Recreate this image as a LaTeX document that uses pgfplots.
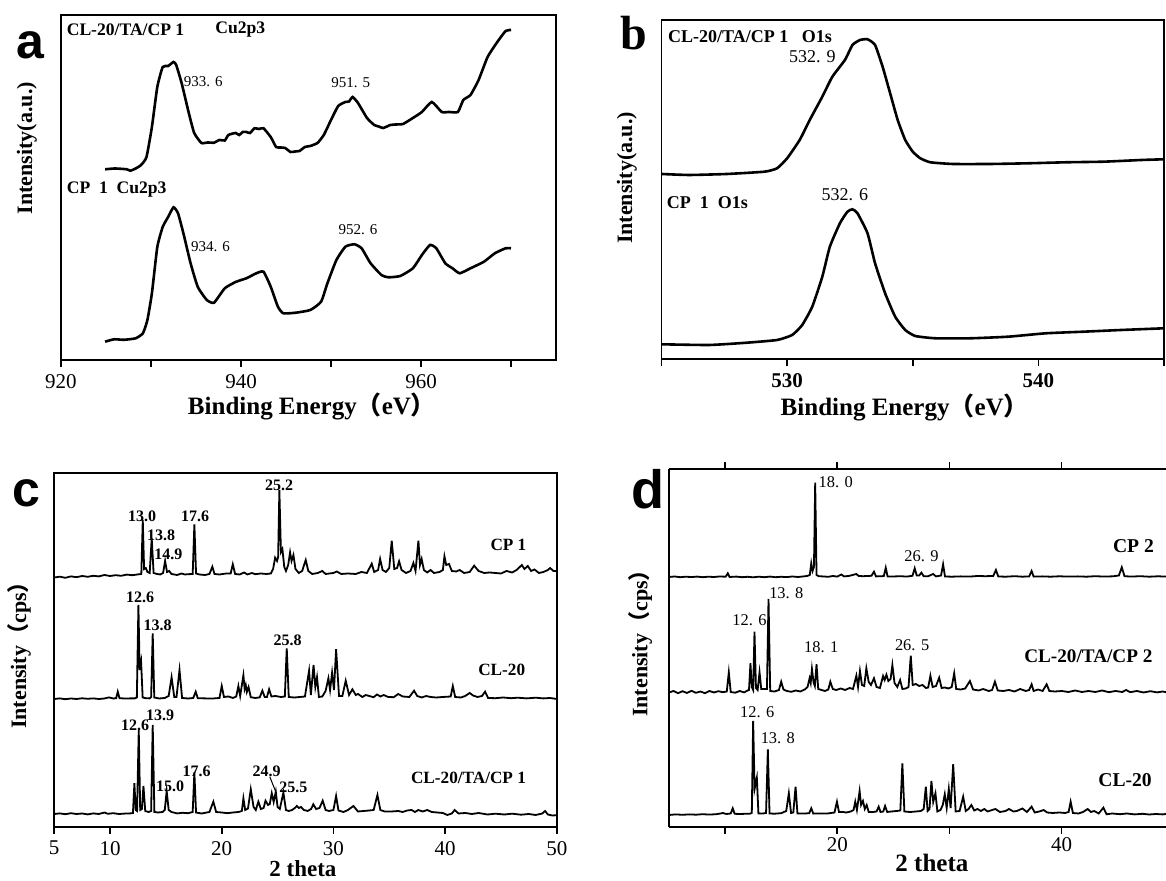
\documentclass[border=0pt]{standalone}
\usepackage{fontspec}
\setmainfont{Liberation Serif}
\newfontfamily\cjk{Noto Sans CJK SC}
\newfontfamily\letterfont{Liberation Sans}
\usepackage{pgfplots}
\usepackage{pgfplotstable}
\pgfplotsset{compat=1.18}

% ---- panel a: Cu2p3 XPS (intensity in a.u., curves offset) ----
\pgfplotstableread{
x y
924.9 190.7
926.0 191.5
927.3 190.7
927.7 189.3
928.3 191.5
928.9 195
929.5 203
930.1 233
930.7 273
931.3 293
931.9 294
932.5 298
932.8 295
933.4 277
934.2 247
934.8 227
935.6 217
936.3 217.5
937.0 217.3
937.6 220
938.2 219.5
938.6 225
939.4 227
939.8 225
940.2 228
940.6 228
941.0 227
941.5 231.7
942.0 231
942.5 231.7
943.3 223
943.9 213
944.4 212.5
944.9 212
945.5 208
946.0 208.5
946.5 209
947.1 213
947.7 214
948.5 217
949.2 225
950.0 240
950.8 254
951.6 258
952.0 258.5
952.4 263
953.0 257
954.0 242
954.8 235
955.3 233.5
955.8 232
956.6 235
957.2 235.5
958.0 236
959.1 242
960.1 248
961.2 258
962.3 248
963.1 248
964.1 248
964.7 260
965.5 265
966.4 280
967.4 303
968.4 317
969.4 329
970.0 330
}\cuTop
\pgfplotstableread{
x y
924.9 18.3
925.9 20.7
927.0 20.2
928.3 21.7
929.1 26.7
929.6 40
930.1 66.7
930.7 113
931.3 133
931.9 143
932.5 152.7
933.0 146.7
933.6 126.7
934.4 96.7
935.2 73
936.2 60
937.0 57.3
938.2 71.7
939.4 78
940.6 81.7
941.7 86.7
942.5 88.3
943.3 73.3
944.1 53.3
944.7 46.7
946.1 47.3
947.7 50
948.9 58.3
949.6 76.7
950.6 100
951.6 113.3
952.6 115.7
953.4 111.7
954.4 96.7
955.6 85
956.4 82.7
957.7 84
959.1 91.7
960.1 105
961.0 115
961.7 111.7
962.7 96.7
963.5 91.7
964.3 86.7
965.5 91.7
967.0 98.3
968.2 106.7
969.4 111.7
970.0 111.7
}\cuBot

% ---- panel b: O1s XPS ----
\pgfplotstableread{
x y
525.0 185
526.1 184
527.6 185
529.1 187.3
529.6 190.7
530.0 200.7
530.5 219
530.9 239
531.4 262.3
531.8 282.3
532.3 299
532.6 314
532.9 319
533.2 319.7
533.5 314
533.8 292.3
534.1 265.7
534.4 239
534.7 219
535.0 207.3
535.3 200.7
535.7 196.7
536.6 195
538.1 195
539.6 195.7
541.1 196.7
542.6 197.3
544.1 199
545.0 199.7
}\oTop
\pgfplotstableread{
x y
525.0 14.7
526.9 14
528.4 16.3
529.6 19
530.2 24
530.6 34
531.0 52.3
531.4 82.3
531.7 112.3
532.1 135.7
532.4 147.3
532.6 149.7
532.8 145.7
533.2 125.7
533.5 95.7
533.9 65.7
534.3 42.3
534.7 29
535.1 23
535.9 20.7
537.3 20.7
538.8 22.3
540.3 25.7
541.8 27.3
543.3 29
545.0 30.7
}\oBot

% ---- panel c: XRD ----
\pgfplotstableread{
x y
5.0 249.5
5.5 250.3
6.0 249.2
6.5 250.6
7.0 249.8
7.5 251.0
8.0 250.2
8.5 251.2
9.0 250.6
9.5 252.0
10.0 251.0
10.5 251.8
11.0 251.2
11.5 252.4
12.0 251.8
12.5 252.6
12.8 253.0
12.93 307.0
13.05 258.0
13.2 259.0
13.35 255.0
13.55 254.0
13.73 288.7
13.9 254.0
14.2 253.0
14.5 252.5
14.75 254.0
14.93 266.0
15.1 255.0
15.3 256.0
15.5 253.0
16.0 252.0
16.4 253.5
16.7 252.5
17.0 252.8
17.4 253.0
17.55 302.7
17.7 253.5
18.0 252.5
18.5 252.0
18.9 253.0
19.16 260.3
19.35 253.0
19.8 252.5
20.4 253.5
20.8 253.5
20.99 262.7
21.2 253.0
21.6 252.5
22.0 254.5
22.3 252.5
22.7 254.0
23.0 252.8
23.5 253.5
24.0 253.0
24.4 253.5
24.6 258.0
24.78 269.3
24.95 266.0
25.05 270.0
25.16 337.0
25.3 275.0
25.43 278.0
25.6 260.0
25.75 256.0
25.95 262.0
26.12 274.7
26.25 266.0
26.42 272.0
26.6 258.0
26.9 254.0
27.2 256.0
27.52 267.0
27.75 256.0
28.1 253.0
28.6 254.0
29.0 256.0
29.3 253.0
30.0 254.0
30.3 255.5
30.7 253.0
31.3 253.5
32.0 253.0
32.5 255.0
33.0 254.0
33.43 263.3
33.65 255.0
34.0 257.0
34.18 268.0
34.4 257.0
34.7 255.0
35.0 259.0
35.22 286.3
35.45 258.0
35.7 259.0
35.88 265.7
36.1 257.0
36.5 254.0
36.9 256.0
37.16 264.0
37.35 256.0
37.61 286.3
37.75 262.0
37.9 268.0
38.1 257.0
38.4 254.5
38.7 257.0
39.0 254.0
39.5 255.0
39.8 257.0
39.94 270.7
40.1 262.0
40.35 263.0
40.6 256.0
41.0 255.5
41.3 257.0
41.7 254.0
42.2 255.0
42.6 261.3
43.0 256.0
43.5 254.0
44.0 254.5
44.5 254.0
45.0 253.5
45.5 256.0
46.0 254.5
46.4 257.0
46.87 262.0
47.1 258.0
47.4 261.0
47.7 256.0
48.0 257.5
48.4 254.0
48.8 255.0
49.2 257.0
49.4 259.0
49.7 256.0
50.0 256.0
}\cpOne
\pgfplotstableread{
x y
5.0 128.0
5.5 128.6
6.0 127.8
6.5 128.5
7.0 128.0
7.5 128.7
8.0 128.2
8.5 128.6
9.0 128.0
9.5 128.5
9.9 129.6
10.3 128.5
10.55 128.8
10.69 135.3
10.85 128.8
11.3 128.5
11.8 128.6
12.2 128.6
12.4 129.5
12.54 222.0
12.65 157.0
12.78 165.3
12.92 129.5
13.2 128.8
13.55 128.6
13.68 130.0
13.82 193.7
13.96 129.5
14.4 128.5
14.9 129.0
15.25 131.0
15.51 149.7
15.75 130.0
15.95 130.0
16.22 157.0
16.45 129.0
17.0 128.5
17.45 129.0
17.67 135.3
17.85 128.8
18.5 128.6
19.2 128.5
19.8 129.0
20.0 141.0
20.2 130.0
20.6 130.5
21.0 129.0
21.3 130.5
21.49 141.0
21.65 131.0
21.94 151.7
22.05 138.0
22.15 142.0
22.25 135.0
22.4 140.0
22.6 129.8
23.0 129.0
23.4 129.6
23.64 136.3
23.85 130.0
24.05 130.0
24.24 137.7
24.45 130.5
24.8 131.0
25.3 130.0
25.65 130.5
25.82 178.7
26.0 130.0
26.5 129.5
27.0 130.0
27.45 130.5
27.82 156.3
27.98 132.0
28.22 162.0
28.38 140.0
28.53 149.7
28.7 130.0
29.0 130.5
29.3 136.0
29.55 148.7
29.7 137.0
29.88 154.3
30.05 137.0
30.24 177.7
30.5 131.0
30.8 131.0
31.1 146.3
31.4 132.0
31.7 137.7
32.0 132.0
32.2 133.0
32.6 130.0
32.9 132.0
33.2 131.0
33.6 129.8
33.9 132.5
34.2 130.5
34.5 132.0
34.9 130.0
35.4 129.8
35.8 133.0
36.2 130.5
36.8 130.0
37.22 136.3
37.5 131.0
37.9 129.5
38.3 131.0
38.7 130.0
39.2 129.5
39.8 130.0
40.5 130.5
40.69 141.0
40.9 130.0
41.4 129.5
41.8 131.0
42.2 134.0
42.5 131.5
42.9 130.0
43.3 131.0
43.58 135.3
43.85 129.0
44.5 128.8
45.2 129.5
45.9 128.8
46.5 129.3
47.3 128.6
48.1 129.3
48.8 128.6
49.4 129.0
50.0 128.0
}\clC
\pgfplotstableread{
x y
5.0 13.0
5.5 13.6
6.0 12.8
6.5 13.8
7.0 13.0
7.5 13.5
8.0 12.6
8.5 13.6
9.0 13.0
9.5 14.5
9.8 13.2
10.3 13.8
10.8 13.0
11.3 13.4
11.8 13.6
12.05 14.0
12.18 43.7
12.3 17.0
12.42 16.0
12.57 97.0
12.7 17.0
12.85 18.0
12.99 41.0
13.15 16.0
13.45 15.0
13.68 16.0
13.82 102.0
13.97 15.0
14.3 14.5
14.7 15.0
14.9 17.0
15.07 36.0
15.25 17.0
15.5 15.0
16.0 13.6
16.5 14.2
17.0 13.8
17.4 15.0
17.55 54.7
17.7 14.5
18.2 13.5
18.9 15.0
19.25 25.3
19.5 15.0
20.0 14.5
20.5 13.8
21.0 14.5
21.5 15.0
21.8 16.0
21.94 28.7
22.1 17.0
22.35 18.5
22.6 37.7
22.85 20.0
23.05 17.0
23.28 25.3
23.5 18.0
23.75 19.0
23.92 26.3
24.15 22.0
24.3 23.0
24.48 33.7
24.65 25.0
24.84 35.3
25.0 20.0
25.2 18.0
25.52 34.3
25.75 17.0
26.0 16.0
26.3 17.0
26.6 19.5
26.72 21.0
26.9 19.0
27.1 20.0
27.35 17.0
27.7 16.0
28.0 18.0
28.2 22.7
28.45 18.0
28.75 19.0
29.04 26.3
29.3 17.0
29.6 16.0
30.0 17.0
30.24 31.0
30.45 16.5
30.9 15.0
31.3 17.0
31.79 21.0
32.2 15.5
32.7 16.0
33.2 16.5
33.6 17.0
33.94 32.0
34.2 17.0
34.6 15.5
35.2 15.5
35.8 16.0
36.2 15.0
36.6 16.5
37.0 17.0
37.3 15.0
37.6 17.0
38.0 15.5
38.4 17.0
38.8 15.0
39.3 14.5
39.8 14.0
40.2 12.0
40.6 13.5
40.85 17.0
41.2 13.5
41.8 14.0
42.4 13.0
43.0 14.0
43.8 12.5
44.5 13.3
45.3 12.5
46.0 13.3
46.8 12.3
47.5 13.0
48.1 12.0
48.7 13.5
48.95 16.0
49.2 12.5
49.6 11.5
50.0 11.8
}\mixOne

% ---- panel d: XRD ----
\pgfplotstableread{
x y
5.0 250.0
5.5 250.5
6.0 249.8
6.5 250.3
7.0 249.9
7.5 250.4
8.0 249.8
8.5 250.3
9.0 250.0
9.5 250.5
10.05 250.3
10.24 253.7
10.4 250.0
11.0 250.4
11.5 249.8
12.0 250.2
12.5 249.7
13.0 250.3
13.5 249.8
14.0 250.4
14.5 249.8
15.0 250.2
15.5 249.9
16.0 250.5
16.5 250.0
17.0 250.6
17.3 251.0
17.55 252.0
17.68 263.7
17.8 256.0
17.92 260.0
18.03 344.3
18.15 252.0
18.35 250.8
18.8 250.5
19.2 250.2
19.6 251.0
20.0 250.4
20.36 252.5
20.6 250.6
21.0 251.0
21.2 251.5
21.7 253.0
21.9 251.0
22.3 250.8
22.7 251.0
23.05 251.2
23.27 255.3
23.45 250.6
24.0 250.8
24.15 251.0
24.32 259.3
24.48 250.6
25.0 250.5
25.6 250.8
26.2 250.4
26.7 251.2
26.9 258.7
27.08 251.5
27.3 251.5
27.5 254.3
27.7 250.8
28.1 250.8
28.54 253.0
28.8 250.6
29.25 251.5
29.43 262.7
29.6 250.5
30.2 250.3
31.0 250.6
31.8 250.4
32.5 251.0
33.2 250.8
33.9 251.0
34.14 257.0
34.35 250.5
35.0 250.3
35.8 250.8
36.5 250.3
37.1 250.6
37.32 256.0
37.5 250.4
38.3 250.6
39.0 250.3
39.8 250.7
40.6 250.4
41.4 250.6
42.2 250.3
43.0 250.8
43.8 250.4
44.6 250.7
45.1 251.5
45.36 259.7
45.6 250.8
46.2 250.4
47.0 250.8
47.8 250.3
48.6 250.7
49.3 250.4
}\cpTwo
\pgfplotstableread{
x y
5.0 134.5
5.4 136.0
5.8 133.8
6.2 135.8
6.6 134.0
7.0 136.2
7.4 134.2
7.8 135.5
8.2 133.8
8.6 136.0
9.0 134.5
9.4 135.8
9.8 134.8
10.15 135.5
10.33 154.7
10.5 135.0
10.9 134.3
11.3 136.0
11.7 134.6
12.0 136.5
12.13 137.0
12.26 163.7
12.38 140.0
12.5 137.0
12.62 195.3
12.75 139.0
12.9 137.0
13.07 154.7
13.22 138.0
13.5 138.0
13.73 138.0
13.87 228.0
14.02 136.0
14.4 135.5
14.8 137.0
15.0 145.3
15.2 137.5
15.5 136.0
15.9 135.2
16.3 136.5
16.7 135.5
17.1 137.5
17.35 140.0
17.53 148.7
17.63 144.0
17.74 158.0
17.88 145.0
18.0 141.0
18.15 162.7
18.3 138.0
18.6 137.0
18.9 136.0
19.2 137.5
19.38 145.3
19.6 138.0
19.9 137.0
20.3 138.5
20.7 137.0
21.1 139.0
21.4 138.0
21.7 151.3
21.85 140.0
22.02 156.0
22.2 142.0
22.4 141.0
22.59 158.7
22.8 145.0
23.0 142.0
23.27 148.7
23.5 140.0
23.8 139.0
24.08 151.0
24.22 147.0
24.38 152.3
24.55 146.0
24.75 148.0
24.91 162.0
25.1 144.0
25.35 140.0
25.6 147.0
25.8 138.0
26.1 138.5
26.35 140.0
26.55 171.3
26.72 142.0
27.0 143.0
27.3 141.0
27.6 142.0
27.9 139.0
28.1 139.5
28.3 151.3
28.5 140.0
28.8 141.0
29.08 149.3
29.3 139.0
29.6 139.5
29.9 138.5
30.2 140.0
30.42 153.7
30.6 138.0
31.0 137.5
31.4 138.5
31.82 146.0
32.1 137.5
32.6 136.5
33.0 138.0
33.5 136.0
33.8 137.0
34.05 145.3
34.3 136.5
34.8 136.0
35.3 137.0
35.8 135.5
36.3 138.0
36.8 136.0
37.1 137.0
37.32 142.7
37.5 136.0
37.9 137.5
38.3 136.0
38.66 142.7
38.9 136.0
39.4 135.5
40.0 136.0
40.6 135.0
41.2 136.5
41.8 135.0
42.4 136.0
43.0 135.0
43.6 136.5
44.2 134.8
44.8 136.0
45.4 135.0
45.75 137.0
46.1 134.8
46.7 136.0
47.3 134.5
47.9 135.8
48.5 134.6
49.0 135.5
49.3 134.8
}\mixTwo
\pgfplotstableread{
x y
5.0 12.0
5.6 12.6
6.2 12.2
6.8 12.6
7.4 12.3
8.0 12.8
8.6 12.4
9.2 12.8
9.6 13.5
9.8 14.0
10.1 13.0
10.5 13.5
10.68 18.7
10.85 13.2
11.3 13.0
11.8 13.2
12.2 13.3
12.38 14.0
12.5 106.0
12.63 38.0
12.83 49.3
12.97 13.5
13.3 13.4
13.65 14.0
13.81 77.7
13.96 13.5
14.4 13.3
15.0 13.8
15.45 16.0
15.68 33.7
15.88 14.0
16.08 14.5
16.28 40.3
16.45 13.5
17.0 13.4
17.5 13.8
17.68 18.7
17.86 13.4
18.5 13.5
19.2 13.6
19.75 14.5
19.97 25.3
20.15 15.0
20.5 15.0
20.8 14.5
21.2 15.5
21.45 17.0
21.6 25.3
21.75 17.0
21.99 36.0
22.12 22.0
22.29 26.0
22.45 18.0
22.62 22.0
22.8 15.0
23.2 15.0
23.5 15.5
23.69 20.3
23.85 15.0
24.1 15.5
24.26 21.0
24.45 15.0
24.8 15.5
25.3 16.0
25.62 16.5
25.8 63.7
25.98 15.5
26.5 15.0
27.0 15.5
27.45 16.0
27.7 18.0
27.89 40.3
28.05 16.0
28.22 18.0
28.39 46.0
28.55 25.0
28.75 33.7
28.92 15.5
29.2 17.0
29.4 22.0
29.58 32.7
29.75 19.0
29.94 38.0
30.1 19.0
30.33 62.7
30.55 15.5
30.9 16.0
31.22 30.3
31.45 16.0
31.7 18.0
31.95 22.0
32.2 16.5
32.5 18.0
32.8 16.0
33.1 18.0
33.4 15.5
33.8 17.0
34.1 18.0
34.5 15.0
35.0 16.0
35.3 18.0
35.7 15.5
36.0 16.0
36.5 18.5
36.9 15.0
37.32 20.3
37.6 14.5
38.0 15.5
38.4 17.0
38.7 14.5
39.2 14.0
39.8 14.5
40.3 14.0
40.62 15.0
40.8 25.3
41.0 14.0
41.5 13.5
41.9 15.0
42.32 18.0
42.6 15.0
42.9 16.0
43.3 13.5
43.72 19.3
44.0 12.7
44.5 13.5
45.2 12.8
45.8 13.5
46.5 12.6
47.2 13.2
47.8 12.5
48.4 13.0
49.0 12.6
49.3 13.0
}\clD

\pgfplotsset{
  panel/.style={
    scale only axis, anchor=south west, clip=false,
    axis line style={line width=0.9pt},
    ytick=\empty,
    tick align=outside, xtick pos=bottom,
    major tick length=3.5pt,
    tick style={line width=0.8pt, black},
    tick label style={font=\fontsize{10.5}{12}\selectfont},
    /pgf/number format/assume math mode=true,
    xlabel style={font=\bfseries\fontsize{12.5}{14}\selectfont, anchor=center},
    ylabel style={font=\bfseries\fontsize{11}{13}\selectfont, anchor=center},
  },
  xps/.style={black, line width=1.3pt, smooth, tension=0.3},
  xrd/.style={black, line width=0.9pt},
}
\newcommand{\bl}[1]{\bfseries\fontsize{#1}{#1}\selectfont}
\newcommand{\rl}[1]{\fontsize{#1}{#1}\selectfont}

\begin{document}
\begin{tikzpicture}
\useasboundingbox (0,0) rectangle (583pt,440.5pt);

% (a) Cu2p3
\begin{axis}[panel, at={(30.5pt,260.5pt)}, width=247.5pt, height=172.5pt,
    xmin=920, xmax=975, ymin=0, ymax=345,
    xtick={920,930,...,970}, xticklabels={920,,940,,960,},
    xlabel={Binding Energy{\cjk （}eV{\cjk ）}},
    ylabel={Intensity(a.u.)},
    xlabel style={at={(axis description cs:0.507,-0.136)}},
    ylabel style={at={(axis description cs:-0.069,0.614)}}]
  \addplot[xps] table {\cuTop};
  \addplot[xps] table {\cuBot};
  \node[anchor=west, inner sep=0pt, font=\bl{8.8}] at (axis cs:920.6,330) {CL-20/TA/CP 1};
  \node[anchor=west, inner sep=0pt, font=\bl{8.8}] at (axis cs:937.1,330) {Cu2p3};
  \node[anchor=west, inner sep=0pt, font=\bl{8.8}] at (axis cs:920.6,170) {CP\ \ 1\ \ Cu2p3};
  \node[anchor=west, inner sep=0pt, font=\rl{7.5}] at (axis cs:933.6,278) {933. 6};
  \node[font=\rl{7.5}] at (axis cs:952.2,277) {951. 5};
  \node[font=\rl{7.5}] at (axis cs:936.6,113) {934. 6};
  \node[font=\rl{7.5}] at (axis cs:953.0,130) {952. 6};
\end{axis}

% (b) O1s
\begin{axis}[panel, at={(330.75pt,261pt)}, width=251.25pt, height=169.5pt,
    xmin=525, xmax=545, ymin=0, ymax=339,
    xtick={525,530,535,540,545}, xticklabels={,530,,540,},
    tick label style={font=\bfseries\fontsize{10.5}{12}\selectfont},
    xlabel={Binding Energy{\cjk （}eV{\cjk ）}},
    ylabel={Intensity(a.u.)},
    xlabel style={at={(axis description cs:0.484,-0.142)}},
    ylabel style={at={(axis description cs:-0.069,0.534)}}]
  \addplot[xps] table {\oTop};
  \addplot[xps] table {\oBot};
  \node[anchor=west, inner sep=0pt, font=\bl{9}] at (axis cs:525.25,322) {CL-20/TA/CP 1\ \ \ O1s};
  \node[anchor=west, inner sep=0pt, font=\bl{9}] at (axis cs:525.2,156) {CP\ \ 1\ \ O1s};
  \node[font=\rl{9}] at (axis cs:531.0,302) {532. 9};
  \node[font=\rl{9}] at (axis cs:532.3,164) {532. 6};
\end{axis}

% (c) XRD CP 1
\begin{axis}[panel, at={(27.1pt,27pt)}, width=251.3pt, height=177pt,
    xmin=5, xmax=50, ymin=0, ymax=354,
    xtick={5,10,20,30,40,50},
    xlabel={2 theta},
    ylabel={Intensity{\cjk （}cps{\cjk ）}},
    xlabel style={at={(axis description cs:0.495,-0.118)}, font=\bfseries\fontsize{11.5}{13}\selectfont},
    ylabel style={at={(axis description cs:-0.07,0.5)}}]
  \addplot[xrd] table {\cpOne};
  \addplot[xrd] table {\clC};
  \addplot[xrd] table {\mixOne};
  \begin{scope}[every node/.style={font=\bl{8}, inner sep=0pt}]
    \node at (axis cs:25.14,342) {25.2};
    \node at (axis cs:12.87,310.3) {13.0};
    \node at (axis cs:14.57,292) {13.8};
    \node at (axis cs:15.22,272.7) {14.9};
    \node at (axis cs:17.61,310.3) {17.6};
    \node at (axis cs:12.69,229.7) {12.6};
    \node at (axis cs:14.27,202) {13.8};
    \node at (axis cs:25.91,187) {25.8};
    \node at (axis cs:12.24,102) {12.6};
    \node at (axis cs:14.48,112) {13.9};
    \node at (axis cs:15.37,40.3) {15.0};
    \node at (axis cs:17.76,55.3) {17.6};
    \node at (axis cs:24.03,55.3) {24.9};
    \node at (axis cs:26.42,39.7) {25.5};
  \end{scope}
  \draw[line width=0.5pt] (axis cs:24.3,50.3) -- (axis cs:24.9,33.5);
  \node[font=\bl{8.6}] at (axis cs:45.67,282) {CP 1};
  \node[font=\bl{8.6}] at (axis cs:45.07,157) {CL-20};
  \node[font=\bl{8.6}] at (axis cs:42.09,48.7) {CL-20/TA/CP 1};
\end{axis}

% (d) XRD CP 2 (right spine cut off by the frame)
\begin{axis}[panel, at={(334.5pt,27pt)}, width=248.5pt, height=179pt,
    xmin=5, xmax=49.3, ymin=0, ymax=358,
    axis x line*=box, axis y line*=left,
    xtick pos=both, xtick={10,20,30,40}, xticklabels={,20,,40},
    xticklabel style={yshift=2pt},
    xlabel={2 theta},
    ylabel={Intensity{\cjk （}cps{\cjk ）}},
    xlabel style={at={(axis description cs:0.529,-0.101)}},
    ylabel style={at={(axis description cs:-0.058,0.528)}}]
  \addplot[xrd] table {\cpTwo};
  \addplot[xrd] table {\mixTwo};
  \addplot[xrd] table {\clD};
  \draw[line width=0.9pt] (rel axis cs:0,1) -- (rel axis cs:1,1);
  \begin{scope}[every node/.style={font=\rl{8.2}, inner sep=0pt}]
    \node[anchor=west] at (axis cs:18.3,345.3) {18. 0};
    \node at (axis cs:27.5,271) {26. 9};
    \node[anchor=west] at (axis cs:13.9,233.7) {13. 8};
    \node at (axis cs:12.17,207) {12. 6};
    \node at (axis cs:18.57,180.3) {18. 1};
    \node at (axis cs:26.67,182) {26. 5};
    \node at (axis cs:12.86,115.3) {12. 6};
    \node at (axis cs:14.7,88.7) {13. 8};
  \end{scope}
  \node[font=\bl{9.8}] at (axis cs:46.4,281) {CP 2};
  \node[font=\bl{9.6}] at (axis cs:42.38,170.3) {CL-20/TA/CP 2};
  \node[font=\bl{9.8}] at (axis cs:45.65,47) {CL-20};
\end{axis}

% panel letters
\node[font=\letterfont\bfseries\fontsize{25}{25}\selectfont] at (15pt,418pt) {a};
\node[font=\bfseries\fontsize{24}{24}\selectfont] at (317pt,424pt) {b};
\node[font=\letterfont\bfseries\fontsize{25}{25}\selectfont] at (13pt,194pt) {c};
\node[font=\letterfont\bfseries\fontsize{27}{27}\selectfont] at (324pt,196pt) {d};
\end{tikzpicture}
\end{document}
